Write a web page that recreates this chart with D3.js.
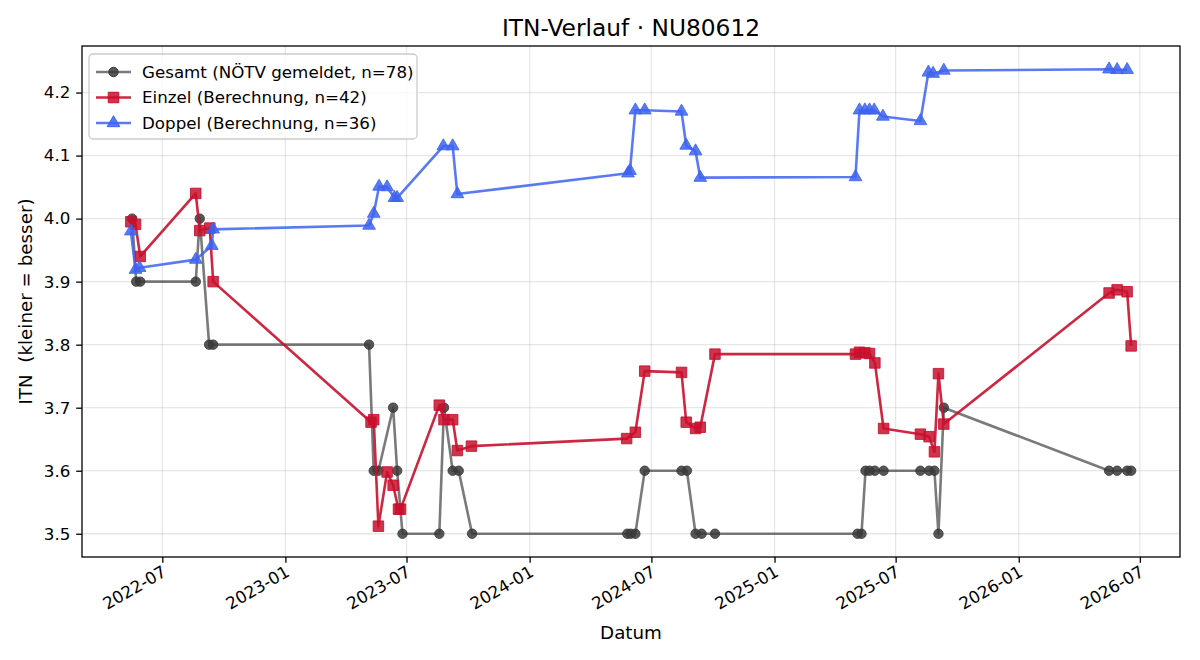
<!DOCTYPE html>
<html>
<head>
<meta charset="utf-8">
<script src="https://cdn.jsdelivr.net/npm/d3@7"></script>
<style>
  body { margin: 0; background: #fff; }
  svg { font-family: "DejaVu Sans", sans-serif; }
</style>
</head>
<body>
<script>
// --- data ---
const gesamtDates = ["2022-05-17","2022-05-23","2022-05-29","2022-08-20","2022-08-26","2022-09-09","2022-09-15",
  "2023-05-06","2023-05-13","2023-05-20","2023-06-11","2023-06-17","2023-06-25","2023-08-19","2023-08-26",
  "2023-09-08","2023-09-17","2023-10-07","2024-05-26","2024-05-31","2024-06-07","2024-06-21","2024-08-15",
  "2024-08-23","2024-09-05","2024-09-14","2024-10-04","2025-05-05","2025-05-11","2025-05-17","2025-05-23",
  "2025-05-31","2025-06-13","2025-08-07","2025-08-20","2025-08-28","2025-09-03","2025-09-11","2026-05-16",
  "2026-05-28","2026-06-12","2026-06-18"];
const gesamtValues = [4.0,3.9,3.9,3.9,4.0,3.8,3.8,
  3.8,3.6,3.6,3.7,3.6,3.5,3.5,3.7,
  3.6,3.6,3.5,3.5,3.5,3.5,3.6,3.6,
  3.6,3.5,3.5,3.5,3.5,3.5,3.6,3.6,
  3.6,3.6,3.6,3.6,3.6,3.5,3.7,3.6,
  3.6,3.6,3.6];

const einzelDates = ["2022-05-15","2022-05-22","2022-05-29","2022-08-20","2022-08-26","2022-09-10","2022-09-15",
  "2023-05-09","2023-05-13","2023-05-20","2023-06-02","2023-06-11","2023-06-19","2023-06-22","2023-08-19",
  "2023-08-26","2023-09-08","2023-09-15","2023-10-06","2024-05-25","2024-06-07","2024-06-21","2024-08-15",
  "2024-08-22","2024-09-05","2024-09-12","2024-10-04","2025-05-02","2025-05-08","2025-05-16","2025-05-23",
  "2025-05-31","2025-06-13","2025-08-07","2025-08-20","2025-08-28","2025-09-03","2025-09-11","2026-05-16",
  "2026-05-28","2026-06-12","2026-06-18"];
const einzelValues = [3.995,3.991,3.940,4.040,3.981,3.985,3.900,
  3.677,3.681,3.512,3.598,3.577,3.539,3.539,3.704,
  3.681,3.681,3.632,3.639,3.651,3.661,3.758,3.756,
  3.677,3.667,3.669,3.785,3.785,3.788,3.787,3.786,
  3.771,3.667,3.658,3.654,3.630,3.754,3.674,3.882,
  3.887,3.884,3.798];

const doppelDates = ["2022-05-15","2022-05-22","2022-05-28","2022-08-20","2022-09-13","2022-09-15",
  "2023-05-06","2023-05-13","2023-05-21","2023-06-02","2023-06-13","2023-06-17","2023-08-25","2023-09-08",
  "2023-09-15","2024-05-27","2024-05-30","2024-06-07","2024-06-21","2024-08-15","2024-08-22","2024-09-05",
  "2024-09-12","2025-05-02","2025-05-08","2025-05-16","2025-05-23","2025-05-30","2025-06-12","2025-08-07",
  "2025-08-19","2025-08-26","2025-09-11","2026-05-16","2026-05-28","2026-06-12"];
const doppelValues = [3.980,3.919,3.922,3.935,3.957,3.983,
  3.989,4.008,4.051,4.050,4.033,4.033,4.115,4.115,
  4.039,4.072,4.076,4.172,4.172,4.170,4.116,4.107,
  4.065,4.066,4.172,4.172,4.172,4.172,4.162,4.155,
  4.232,4.230,4.235,4.237,4.236,4.236];

const xTickLabels = ["2022-07","2023-01","2023-07","2024-01","2024-07","2025-01","2025-07","2026-01","2026-07"];
const yTicks = [3.5, 3.6, 3.7, 3.8, 3.9, 4.0, 4.1, 4.2];
const legendLabels = ["Gesamt (NÖTV gemeldet, n=78)", "Einzel (Berechnung, n=42)", "Doppel (Berechnung, n=36)"];

const parseDay = d3.timeParse("%Y-%m-%d");
const parseMonth = d3.timeParse("%Y-%m");

const w = 1200;
const h = 660;
const plotLeft = 82, plotRight = 1180, plotTop = 46, plotBottom = 557;
const tickFont = 16.7, labelFont = 18.3, titleFont = 23.3;

const svg = d3.select("body")
  .append("svg")
  .attr("width", w)
  .attr("height", h);

const xScale = d3.scaleTime()
  .domain([parseDay("2022-03-03"), parseDay("2026-08-30")])
  .range([plotLeft, plotRight]);

const yScale = d3.scaleLinear()
  .domain([3.4631, 4.2739])
  .range([plotBottom, plotTop]);

const xTicks = xTickLabels.map(parseMonth);

// grid
svg.append("g")
  .selectAll("line")
  .data(xTicks)
  .enter()
  .append("line")
  .attr("x1", d => xScale(d)).attr("x2", d => xScale(d))
  .attr("y1", plotTop).attr("y2", plotBottom)
  .attr("stroke", "#b0b0b0").attr("stroke-opacity", 0.3).attr("stroke-width", 1.3);

svg.append("g")
  .selectAll("line")
  .data(yTicks)
  .enter()
  .append("line")
  .attr("x1", plotLeft).attr("x2", plotRight)
  .attr("y1", d => yScale(d)).attr("y2", d => yScale(d))
  .attr("stroke", "#b0b0b0").attr("stroke-opacity", 0.3).attr("stroke-width", 1.3);

const series = [
  { dates: gesamtDates, values: gesamtValues, line: "#333333", lineOpacity: 0.65, marker: "circle", fill: "#3a3a3a", markerOpacity: 0.85 },
  { dates: einzelDates, values: einzelValues, line: "#c8102e", lineOpacity: 0.9, marker: "square", fill: "#c8102e", markerOpacity: 0.85 },
  { dates: doppelDates, values: doppelValues, line: "#3d63f0", lineOpacity: 0.85, marker: "triangle", fill: "#3d63f0", markerOpacity: 0.85 }
];

const symbols = { circle: d3.symbolCircle, square: d3.symbolSquare, triangle: d3.symbolTriangle };
const sizes = { circle: 70, square: 110, triangle: 70 };

const line = d3.line()
  .x(d => xScale(d.date))
  .y(d => yScale(d.value));

series.forEach(s => {
  const pts = s.dates.map((d, i) => ({ date: parseDay(d), value: s.values[i] }));

  svg.append("path")
    .datum(pts)
    .attr("d", line)
    .attr("fill", "none")
    .attr("stroke", s.line)
    .attr("stroke-opacity", s.lineOpacity)
    .attr("stroke-width", 2.6)
    .attr("stroke-linejoin", "round");

  svg.append("g")
    .selectAll("path")
    .data(pts)
    .enter()
    .append("path")
    .attr("transform", d => "translate(" + xScale(d.date) + "," + yScale(d.value) + ")")
    .attr("d", d3.symbol().type(symbols[s.marker]).size(sizes[s.marker]))
    .attr("fill", s.fill)
    .attr("fill-opacity", s.markerOpacity)
    .attr("stroke", s.fill)
    .attr("stroke-opacity", s.markerOpacity)
    .attr("stroke-width", 1);
});

// axes
const xAxis = d3.axisBottom(xScale)
  .tickValues(xTicks)
  .tickFormat(d3.timeFormat("%Y-%m"))
  .tickSizeOuter(0)
  .tickSize(5.8);

const gx = svg.append("g")
  .attr("transform", "translate(0," + plotBottom + ")")
  .call(xAxis);
gx.select(".domain").remove();
gx.selectAll("line").attr("stroke", "#000").attr("stroke-width", 1.3);
gx.selectAll("text")
  .attr("font-size", tickFont)
  .attr("font-family", "DejaVu Sans")
  .attr("fill", "#000")
  .attr("text-anchor", "end")
  .attr("dy", "0.72em")
  .attr("y", 8)
  .attr("transform", "rotate(-30,0,14) translate(2,0)");

const yAxis = d3.axisLeft(yScale)
  .tickValues(yTicks)
  .tickFormat(d3.format(".1f"))
  .tickSizeOuter(0)
  .tickSize(5.8)
  .tickPadding(5.8);

const gy = svg.append("g")
  .attr("transform", "translate(" + plotLeft + ",0)")
  .call(yAxis);
gy.select(".domain").remove();
gy.selectAll("line").attr("stroke", "#000").attr("stroke-width", 1.3);
gy.selectAll("text")
  .attr("font-size", tickFont)
  .attr("font-family", "DejaVu Sans")
  .attr("fill", "#000");

// frame
svg.append("rect")
  .attr("x", plotLeft).attr("y", plotTop)
  .attr("width", plotRight - plotLeft).attr("height", plotBottom - plotTop)
  .attr("fill", "none")
  .attr("stroke", "#000")
  .attr("stroke-width", 1.3);

// titles
svg.append("text")
  .attr("x", (plotLeft + plotRight) / 2)
  .attr("y", 36)
  .attr("text-anchor", "middle")
  .attr("font-size", titleFont)
  .text("ITN-Verlauf · NU80612");

svg.append("text")
  .attr("x", (plotLeft + plotRight) / 2)
  .attr("y", 639)
  .attr("text-anchor", "middle")
  .attr("font-size", labelFont)
  .text("Datum");

svg.append("text")
  .attr("transform", "translate(32," + ((plotTop + plotBottom) / 2) + ") rotate(-90)")
  .attr("text-anchor", "middle")
  .attr("font-size", labelFont)
  .style("white-space", "pre")
  .text("ITN  (kleiner = besser)");

// legend
const legend = svg.append("g")
  .attr("transform", "translate(89,54)");

legend.append("rect")
  .attr("width", 328).attr("height", 85)
  .attr("rx", 4)
  .attr("fill", "#fff").attr("fill-opacity", 0.8)
  .attr("stroke", "#cccccc")
  .attr("stroke-width", 1.3);

series.forEach((s, i) => {
  const yy = 18 + i * 25.5;
  legend.append("line")
    .attr("x1", 7).attr("x2", 42)
    .attr("y1", yy).attr("y2", yy)
    .attr("stroke", s.line)
    .attr("stroke-opacity", s.lineOpacity)
    .attr("stroke-width", 2.6);
  legend.append("path")
    .attr("transform", "translate(24.5," + yy + ")")
    .attr("d", d3.symbol().type(symbols[s.marker]).size(sizes[s.marker]))
    .attr("fill", s.fill)
    .attr("fill-opacity", s.markerOpacity)
    .attr("stroke", s.fill)
    .attr("stroke-width", 1);
  legend.append("text")
    .attr("x", 53)
    .attr("y", yy)
    .attr("dy", "0.35em")
    .attr("font-size", tickFont)
    .text(legendLabels[i]);
});
</script>
</body>
</html>
